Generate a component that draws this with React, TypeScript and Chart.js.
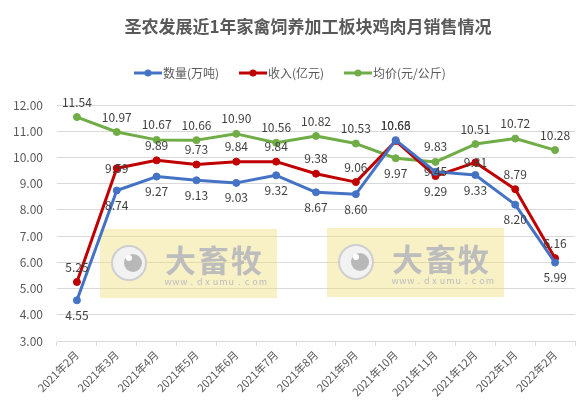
import React, { useEffect, useRef } from "react";
import { Chart, registerables } from "chart.js";

Chart.register(...registerables);

const TITLE = "圣农发展近1年家禽饲养加工板块鸡肉月销售情况";
const categories = [
  "2021年2月", "2021年3月", "2021年4月", "2021年5月", "2021年6月", "2021年7月",
  "2021年8月", "2021年9月", "2021年10月", "2021年11月", "2021年12月", "2022年1月", "2022年2月",
];
const volume = [4.55, 8.74, 9.27, 9.13, 9.03, 9.32, 8.67, 8.6, 10.66, 9.45, 9.33, 8.2, 5.99];
const revenue = [5.25, 9.59, 9.89, 9.73, 9.84, 9.84, 9.38, 9.06, 10.63, 9.29, 9.81, 8.79, 6.16];
const price = [11.54, 10.97, 10.67, 10.66, 10.9, 10.56, 10.82, 10.53, 9.97, 9.83, 10.51, 10.72, 10.28];
const seriesNames = ["数量(万吨)", "收入(亿元)", "均价(元/公斤)"];
const yTicks = { min: 3, max: 12, step: 1 };

// label placement per point (style, not data)
const volumePos = ["b", "b", "b", "b", "b", "b", "b", "b", "a", "c", "b", "b", "b"];
const revenuePos = ["a", "c", "a", "a", "a", "a", "a", "a", "a", "b", "c", "a", "a"];
const pricePos = ["a", "a", "a", "a", "a", "a", "a", "a", "b", "a", "a", "a", "a"];

const COLORS = ["#4472C4", "#C00000", "#70AD47"];
const FONT = "'Noto Sans CJK SC', 'Noto Sans', sans-serif";

const decorPlugin = {
  id: "decor",
  beforeDatasetsDraw(chart: any) {
    const ctx = chart.ctx;
    const marks = [
      { x: 100, y: 229, w: 177, h: 69 },
      { x: 327, y: 228, w: 177, h: 69 },
    ];
    ctx.save();
    for (const m of marks) {
      ctx.fillStyle = "rgba(238,222,120,0.42)";
      ctx.fillRect(m.x, m.y, m.w, m.h);
      const cx = m.x + 29;
      const cy = m.y + 34;
      ctx.beginPath();
      ctx.arc(cx, cy, 17, 0, Math.PI * 2);
      ctx.fillStyle = "#f2f2f2";
      ctx.fill();
      ctx.lineWidth = 2;
      ctx.strokeStyle = "#cfcfcf";
      ctx.stroke();
      ctx.beginPath();
      ctx.arc(cx + 4, cy, 9, 0, Math.PI * 2);
      ctx.fillStyle = "#b8b8b8";
      ctx.fill();
      ctx.beginPath();
      ctx.arc(cx, cy - 5, 3, 0, Math.PI * 2);
      ctx.fillStyle = "#ffffff";
      ctx.fill();
      ctx.fillStyle = "#bdbdbd";
      ctx.font = `bold 31px ${FONT}`;
      ctx.textBaseline = "middle";
      ctx.textAlign = "left";
      const t = "大畜牧";
      for (let i = 0; i < t.length; i++) ctx.fillText(t[i], m.x + 65 + i * 33, cy - 3);
      ctx.font = `9px ${FONT}`;
      ctx.textAlign = "center";
      const u = "www.dxumu.com";
      const x0 = m.x + 68, x1 = m.x + 163;
      for (let i = 0; i < u.length; i++) {
        ctx.fillText(u[i], x0 + ((x1 - x0) * i) / (u.length - 1), cy + 19);
      }
    }
    ctx.restore();
  },
  afterDatasetsDraw(chart: any) {
    const ctx = chart.ctx;
    const positions = [volumePos, revenuePos, pricePos];
    ctx.save();
    ctx.font = `12px ${FONT}`;
    ctx.fillStyle = "#404040";
    ctx.textAlign = "center";
    ctx.textBaseline = "middle";
    chart.data.datasets.forEach((ds: any, di: number) => {
      const meta = chart.getDatasetMeta(di);
      meta.data.forEach((pt: any, i: number) => {
        const p = positions[di][i];
        const dy = p === "a" ? -15 : p === "b" ? 15 : 0;
        ctx.fillText(Number(ds.data[i]).toFixed(2), pt.x, pt.y + dy);
      });
    });
    ctx.restore();
  },
  afterDraw(chart: any) {
    const ctx = chart.ctx;
    ctx.save();
    ctx.fillStyle = "#595959";
    ctx.font = `bold 17px ${FONT}`;
    ctx.textAlign = "center";
    ctx.textBaseline = "middle";
    ctx.fillText(TITLE, 308, 27);
    const items = [
      { x: 134, name: seriesNames[0] },
      { x: 239, name: seriesNames[1] },
      { x: 344, name: seriesNames[2] },
    ];
    ctx.font = `12px ${FONT}`;
    ctx.textAlign = "left";
    items.forEach((it, i) => {
      ctx.strokeStyle = COLORS[i];
      ctx.lineWidth = 3;
      ctx.beginPath();
      ctx.moveTo(it.x, 73);
      ctx.lineTo(it.x + 28, 73);
      ctx.stroke();
      ctx.beginPath();
      ctx.arc(it.x + 14, 73, 3.5, 0, Math.PI * 2);
      ctx.fillStyle = COLORS[i];
      ctx.fill();
      ctx.fillStyle = "#595959";
      ctx.fillText(it.name, it.x + 29, 73);
    });
    ctx.restore();
  },
};

export default function App() {
  const ref = useRef<HTMLCanvasElement>(null);
  useEffect(() => {
    document.body.style.margin = "0";
    const mk = (label: string, data: number[], color: string) => ({
      label,
      data,
      borderColor: color,
      backgroundColor: color,
      borderWidth: 3,
      pointRadius: 3.5,
      pointBackgroundColor: color,
      pointBorderColor: color,
      pointBorderWidth: 1,
      tension: 0,
      borderJoinStyle: "round" as const,
      borderCapStyle: "round" as const,
    });
    const chart = new Chart(ref.current!, {
      type: "line",
      data: {
        labels: categories,
        datasets: [
          mk(seriesNames[0], volume, COLORS[0]),
          mk(seriesNames[1], revenue, COLORS[1]),
          mk(seriesNames[2], price, COLORS[2]),
        ],
      },
      options: {
        animation: false,
        responsive: false,
        devicePixelRatio: 1,
        layout: { padding: { top: 105, right: 8, left: 0, bottom: 0 } },
        plugins: { legend: { display: false }, title: { display: false }, tooltip: { enabled: false } },
        scales: {
          x: {
            offset: true,
            grid: { display: true, drawOnChartArea: false, drawTicks: true, tickLength: 5, color: "#d9d9d9", offset: true },
            border: { display: true, color: "#d9d9d9" },
            ticks: { minRotation: 45, maxRotation: 45, color: "#595959", font: { size: 11, family: FONT }, padding: 2, autoSkip: false },
            afterFit: (s: any) => { s.height = 73; },
          },
          y: {
            min: yTicks.min,
            max: yTicks.max,
            grid: { color: "#d9d9d9", drawTicks: false },
            border: { display: false },
            ticks: {
              stepSize: yTicks.step,
              color: "#595959",
              font: { size: 12, family: FONT },
              padding: 14,
              callback: (v: any) => Number(v).toFixed(2),
            },
            afterFit: (s: any) => { s.width = 57; },
          },
        },
      },
      plugins: [decorPlugin],
    });
    return () => chart.destroy();
  }, []);
  return (
    <div style={{ width: 583, height: 414, background: "#fff" }}>
      <canvas ref={ref} width={583} height={414} style={{ display: "block" }} />
    </div>
  );
}
